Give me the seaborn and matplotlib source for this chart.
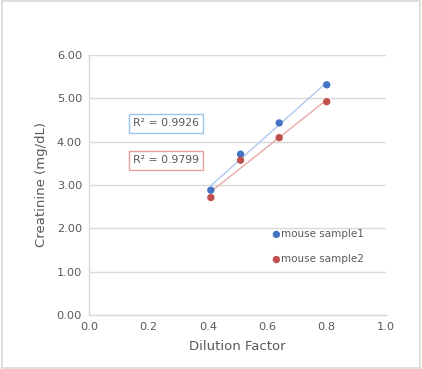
import numpy as np
import pandas as pd
import matplotlib
matplotlib.use("Agg")
import matplotlib.pyplot as plt
import seaborn as sns
from matplotlib.patches import Rectangle

dilution = [0.41, 0.51, 0.64, 0.80]
sample1 = [2.88, 3.71, 4.43, 5.31]
sample2 = [2.71, 3.57, 4.09, 4.92]
series_names = ["mouse sample1", "mouse sample2"]
r2_labels = ["R² = 0.9926", "R² = 0.9799"]

df = pd.DataFrame({
    "Dilution Factor": dilution * 2,
    "Creatinine (mg/dL)": sample1 + sample2,
    "series": [series_names[0]] * 4 + [series_names[1]] * 4,
})

sns.set_theme(style="white")
plt.rcParams['font.family'] = ['DejaVu Sans']

fig = plt.figure(figsize=(4.22, 3.69), dpi=100)
ax = fig.add_axes([0.211, 0.1463, 0.704, 0.705])

marker_colors = ["#4472C4", "#C0504D"]
line_colors = ["#AFC8EC", "#E8A9A7"]
gray = "#595959"

for name, mc, lc in zip(series_names, marker_colors, line_colors):
    sub = df[df["series"] == name]
    sns.regplot(data=sub, x="Dilution Factor", y="Creatinine (mg/dL)", ax=ax,
                ci=None, scatter=False, line_kws=dict(color=lc, lw=1.0))
for name, mc in zip(series_names, marker_colors):
    sub = df[df["series"] == name]
    sns.scatterplot(data=sub, x="Dilution Factor", y="Creatinine (mg/dL)", ax=ax,
                    color=mc, s=28, edgecolor="none", label=name, zorder=5)

ax.set_xlim(0, 1.0)
ax.set_ylim(0, 6)
ax.set_xticks(np.arange(0, 1.01, 0.2))
ax.set_xticklabels([f"{v:.1f}" for v in np.arange(0, 1.01, 0.2)])
ax.set_yticks(np.arange(0, 6.01, 1))
ax.set_yticklabels([f"{v:.2f}" for v in np.arange(0, 6.01, 1)])
ax.yaxis.grid(True, color="#D9D9D9", lw=1)
ax.set_axisbelow(True)
for s in ["top", "right"]:
    ax.spines[s].set_visible(False)
for s in ["left", "bottom"]:
    ax.spines[s].set_color("#D9D9D9")
    ax.spines[s].set_linewidth(1)
ax.tick_params(colors=gray, labelsize=8.2, length=0, pad=5)
ax.set_xlabel("Dilution Factor", color=gray, fontsize=9.5, labelpad=6)
ax.set_ylabel("Creatinine (mg/dL)", color=gray, fontsize=9.5, labelpad=6)

for lab, yv, ec in zip(r2_labels, [4.42, 3.57], ["#9DC3E6", "#E6A09E"]):
    ax.text(0.259, yv, lab, ha="center", va="center", fontsize=7.8, color=gray,
            bbox=dict(boxstyle="square,pad=0.4", fc="white", ec=ec, lw=1))

leg = ax.legend(loc="upper left", bbox_to_anchor=(0.62, 0.33), frameon=False,
                fontsize=7.5, handletextpad=0.1, handlelength=0.6,
                labelspacing=1.45, markerscale=1.0, borderaxespad=0,
                borderpad=0)
for t in leg.get_texts():
    t.set_color(gray)

fig.patches.append(Rectangle((0.004, 0.004), 0.992, 0.992, transform=fig.transFigure,
                             fill=False, ec="#D9D9D9", lw=1.2))

fig.savefig("out.png", dpi=100, facecolor="white")
